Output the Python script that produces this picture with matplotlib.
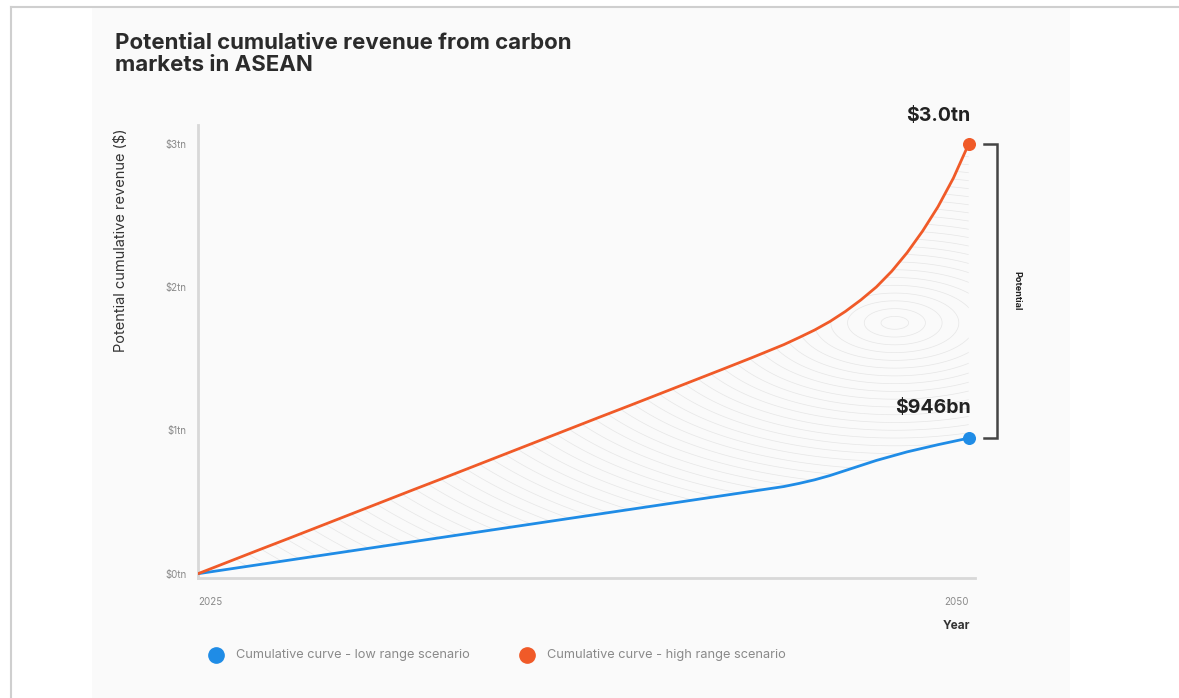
import matplotlib.pyplot as plt
import numpy as np
from matplotlib.patches import Rectangle, Polygon
from matplotlib.lines import Line2D

# data (trillion $)
years = [2025, 2026, 2027, 2028, 2029, 2030, 2031, 2032, 2033, 2034, 2035,
         2036, 2037, 2038, 2039, 2040, 2041, 2042, 2043, 2044, 2044.5, 2045, 2045.5,
         2046, 2046.5, 2047, 2047.5, 2048, 2048.5, 2049, 2049.5, 2050]
low = [0.0, 0.032, 0.064, 0.096, 0.128, 0.16, 0.192, 0.224, 0.256, 0.288, 0.32,
       0.352, 0.384, 0.416, 0.448, 0.48, 0.512, 0.544, 0.576, 0.608, 0.63, 0.655, 0.685,
       0.72, 0.755, 0.79, 0.82, 0.85, 0.875, 0.90, 0.923, 0.946]
high = [0.0, 0.084, 0.168, 0.251, 0.335, 0.419, 0.503, 0.587, 0.67, 0.754, 0.838,
        0.922, 1.006, 1.09, 1.173, 1.257, 1.341, 1.425, 1.51, 1.598, 1.648, 1.70, 1.76,
        1.83, 1.91, 2.0, 2.11, 2.24, 2.39, 2.56, 2.76, 3.0]
yticks = [0, 1, 2, 3]
ylabels = ['$0tn', '$1tn', '$2tn', '$3tn']
xticks = [2025, 2050]
series_names = ['Cumulative curve - low range scenario',
                'Cumulative curve - high range scenario']

BLUE = '#1f8ce6'
ORANGE = '#f05a28'
GREY = '#8a8a8a'
plt.rcParams['font.family'] = ['Inter', 'DejaVu Sans']

W, H = 1179, 698
fig = plt.figure(figsize=(W / 100, H / 100), dpi=100)
fig.patch.set_facecolor('white')

def fx(px):
    return px / W

def fy(py):
    return 1 - py / H

# panel + frame
fig.patches.append(Rectangle((fx(92), 0), fx(1070 - 92), fy(7), transform=fig.transFigure,
                             facecolor='#fafafa', edgecolor='none', zorder=-10))
fig.add_artist(Line2D([fx(11), 1], [fy(7), fy(7)], color='#cfcfcf', lw=1.5))
fig.add_artist(Line2D([fx(11), fx(11)], [0, fy(7)], color='#cfcfcf', lw=1.5))

ax = fig.add_axes([fx(198), fy(578), fx(975 - 198), fy(125) - fy(578)])
ax.set_zorder(2)
ax.set_facecolor('none')
ax.set_xlim(2025, 2050.2)
ax.set_ylim(-0.03, 3.13)

# faint contour texture between the two curves
gx = np.linspace(2025, 2050, 300)
gy = np.linspace(0, 3, 300)
GX, GY = np.meshgrid(gx, gy)
field = np.sqrt(((GX - 2047.6) / 9.0) ** 2 + ((GY - 1.75) / 0.9) ** 2)
cs = ax.contour(GX, GY, field, levels=np.linspace(0.05, 3, 50), colors='#e6e6e6',
                linewidths=0.5, zorder=1)
poly = Polygon(list(zip(years, high)) + list(zip(years[::-1], low[::-1])),
               closed=True, facecolor='none', edgecolor='none')
ax.add_patch(poly)
cs.set_clip_path(poly)

ax.plot(years, low, color=BLUE, lw=2, zorder=3, solid_capstyle='round')
ax.plot(years, high, color=ORANGE, lw=2, zorder=3, solid_capstyle='round')
ax.scatter([years[-1]], [low[-1]], s=70, color=BLUE, zorder=4, clip_on=False)
ax.scatter([years[-1]], [high[-1]], s=70, color=ORANGE, zorder=4, clip_on=False)

ax.text(2049.0, high[-1] + 0.13, '$3.0tn', ha='center', va='bottom', fontsize=14,
        fontweight='bold', color='#222222', clip_on=False)
ax.text(2048.85, low[-1] + 0.15, '$946bn', ha='center', va='bottom', fontsize=14,
        fontweight='bold', color='#222222', clip_on=False)

# bracket
bx = 2050.9
ax.plot([bx - 0.4, bx, bx, bx - 0.4], [high[-1], high[-1], low[-1], low[-1]],
        color='#444444', lw=1.8, clip_on=False, solid_joinstyle='miter')
ax.text(bx + 0.65, (high[-1] + low[-1]) / 2, 'Potential', rotation=270, ha='center',
        va='center', fontsize=6.5, fontweight='bold', color='#222222', clip_on=False)

for s in ['top', 'right']:
    ax.spines[s].set_visible(False)
for s in ['left', 'bottom']:
    ax.spines[s].set_color('#d8d8d8')
    ax.spines[s].set_linewidth(2)
ax.set_yticks(yticks)
ax.set_yticklabels(ylabels)
ax.set_xticks(xticks)
ax.set_xticklabels([str(t) for t in xticks])
ax.tick_params(axis='y', length=0, pad=8, labelsize=7, labelcolor=GREY)
ax.tick_params(axis='x', length=0, pad=14, labelsize=7, labelcolor=GREY)
xl = ax.get_xticklabels()
xl[0].set_ha('left')
xl[1].set_ha('right')

fig.text(fx(121), fy(128), 'Potential cumulative revenue ($)', rotation=90, ha='center',
         va='top', fontsize=10.5, color='#333333')
fig.text(fx(956), fy(626), 'Year', ha='center', va='center', fontsize=8.5,
         fontweight='bold', color='#333333')

fig.text(fx(115), fy(33), 'Potential cumulative revenue from carbon\nmarkets in ASEAN',
         ha='left', va='top', fontsize=16, fontweight='bold', color='#2b2b2b',
         linespacing=1.15)

# legend
for i, (c, name) in enumerate(zip([BLUE, ORANGE], series_names)):
    x0 = [216, 527][i]
    fig.add_artist(Line2D([fx(x0)], [fy(655)], marker='o', markersize=11, color=c, lw=0))
    fig.text(fx(x0 + 20), fy(655), name, ha='left', va='center', fontsize=9.2, color=GREY)

fig.savefig('out.png', dpi=100, facecolor='white')
